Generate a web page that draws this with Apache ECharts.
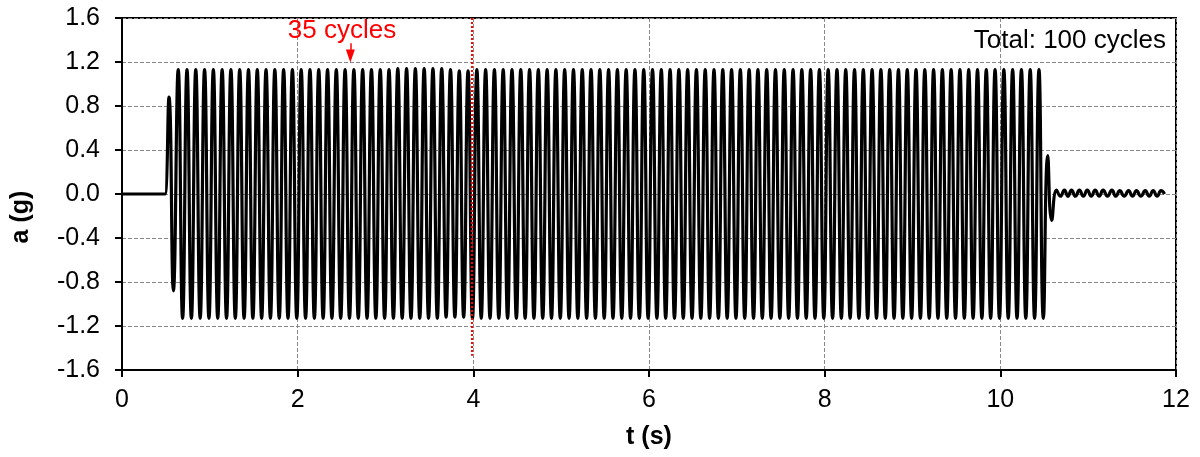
<!DOCTYPE html>
<html>
<head>
<meta charset="utf-8">
<title>a (g) vs t (s)</title>
<script src="https://cdn.jsdelivr.net/npm/echarts@6/dist/echarts.min.js"></script>
<style>
  html, body { margin: 0; padding: 0; background: #fff; }
  #chart { width: 1200px; height: 457px; }
</style>
</head>
<body>
<div id="chart"></div>
<script>
// flat start before shaking
var leadT = [0, 0.47, 0.49];
var leadA = [0, 0, 0];

// positive peaks (s, g)
var posT = [
  0.535, 0.64, 0.74, 0.84, 0.94, 1.04, 1.14, 1.24, 1.34, 1.44,
  1.54, 1.64, 1.74, 1.84, 1.94, 2.04, 2.14, 2.24, 2.34, 2.44,
  2.54, 2.64, 2.74, 2.84, 2.94, 3.04, 3.14, 3.24, 3.34, 3.44,
  3.54, 3.64, 3.74, 3.84, 3.94, 4.04, 4.14, 4.24, 4.34, 4.44,
  4.54, 4.64, 4.74, 4.84, 4.94, 5.04, 5.14, 5.24, 5.34, 5.44,
  5.54, 5.64, 5.74, 5.84, 5.94, 6.04, 6.14, 6.24, 6.34, 6.44,
  6.54, 6.64, 6.74, 6.84, 6.94, 7.04, 7.14, 7.24, 7.34, 7.44,
  7.54, 7.64, 7.74, 7.84, 7.94, 8.04, 8.14, 8.24, 8.34, 8.44,
  8.54, 8.64, 8.74, 8.84, 8.94, 9.04, 9.14, 9.24, 9.34, 9.44,
  9.54, 9.64, 9.74, 9.84, 9.94, 10.04, 10.14, 10.24, 10.34, 10.44
];
var posA = [
  0.88, 1.13, 1.13, 1.13, 1.13, 1.13, 1.13, 1.13, 1.13, 1.13,
  1.13, 1.13, 1.13, 1.13, 1.13, 1.13, 1.13, 1.13, 1.13, 1.13,
  1.13, 1.13, 1.13, 1.13, 1.13, 1.13, 1.14, 1.14, 1.14, 1.14,
  1.14, 1.14, 1.13, 1.12, 1.12, 1.13, 1.13, 1.13, 1.13, 1.13,
  1.13, 1.13, 1.13, 1.13, 1.13, 1.13, 1.13, 1.13, 1.13, 1.13,
  1.13, 1.13, 1.13, 1.13, 1.13, 1.13, 1.13, 1.13, 1.13, 1.13,
  1.13, 1.13, 1.13, 1.13, 1.13, 1.13, 1.13, 1.13, 1.13, 1.13,
  1.13, 1.13, 1.13, 1.13, 1.13, 1.13, 1.13, 1.13, 1.13, 1.13,
  1.13, 1.13, 1.13, 1.13, 1.13, 1.13, 1.13, 1.13, 1.13, 1.13,
  1.13, 1.13, 1.13, 1.13, 1.13, 1.13, 1.13, 1.13, 1.13, 1.13
];

// negative peaks (s, g)
var negT = [
  0.585, 0.69, 0.79, 0.89, 0.99, 1.09, 1.19, 1.29, 1.39, 1.49,
  1.59, 1.69, 1.79, 1.89, 1.99, 2.09, 2.19, 2.29, 2.39, 2.49,
  2.59, 2.69, 2.79, 2.89, 2.99, 3.09, 3.19, 3.29, 3.39, 3.49,
  3.59, 3.69, 3.79, 3.89, 3.99, 4.09, 4.19, 4.29, 4.39, 4.49,
  4.59, 4.69, 4.79, 4.89, 4.99, 5.09, 5.19, 5.29, 5.39, 5.49,
  5.59, 5.69, 5.79, 5.89, 5.99, 6.09, 6.19, 6.29, 6.39, 6.49,
  6.59, 6.69, 6.79, 6.89, 6.99, 7.09, 7.19, 7.29, 7.39, 7.49,
  7.59, 7.69, 7.79, 7.89, 7.99, 8.09, 8.19, 8.29, 8.39, 8.49,
  8.59, 8.69, 8.79, 8.89, 8.99, 9.09, 9.19, 9.29, 9.39, 9.49,
  9.59, 9.69, 9.79, 9.89, 9.99, 10.09, 10.19, 10.29, 10.39, 10.49
];
var negA = [
  -0.88, -1.13, -1.13, -1.13, -1.13, -1.13, -1.13, -1.13, -1.13, -1.13,
  -1.13, -1.13, -1.13, -1.13, -1.13, -1.13, -1.13, -1.13, -1.13, -1.13,
  -1.13, -1.13, -1.13, -1.13, -1.13, -1.13, -1.13, -1.13, -1.13, -1.13,
  -1.13, -1.12, -1.12, -1.12, -1.13, -1.13, -1.13, -1.13, -1.13, -1.13,
  -1.13, -1.13, -1.13, -1.13, -1.13, -1.13, -1.13, -1.13, -1.13, -1.13,
  -1.13, -1.13, -1.13, -1.13, -1.13, -1.13, -1.13, -1.13, -1.13, -1.13,
  -1.13, -1.13, -1.13, -1.13, -1.13, -1.13, -1.13, -1.13, -1.13, -1.13,
  -1.13, -1.13, -1.13, -1.13, -1.13, -1.13, -1.13, -1.13, -1.13, -1.13,
  -1.13, -1.13, -1.13, -1.13, -1.13, -1.13, -1.13, -1.13, -1.13, -1.13,
  -1.13, -1.13, -1.13, -1.13, -1.13, -1.13, -1.13, -1.13, -1.13, -1.13
];

// free vibration after the shaking stops
var tailT = [10.54, 10.585, 10.64, 10.685, 10.73, 10.77, 10.81, 10.855, 10.90, 10.945,
             10.99, 11.035, 11.08, 11.125, 11.17, 11.22, 11.27, 11.315, 11.36, 11.41,
             11.46, 11.505, 11.55, 11.60, 11.65, 11.695, 11.74, 11.785, 11.83, 11.87];
var tailA = [0.35, -0.24, 0.035, -0.02, 0.035, -0.02, 0.035, -0.02, 0.035, -0.02,
             0.035, -0.02, 0.035, -0.02, 0.035, -0.02, 0.035, -0.02, 0.03, -0.02,
             0.03, -0.02, 0.03, -0.02, 0.03, -0.02, 0.03, -0.02, 0.03, 0.0];

var xTicks = { min: 0, max: 12, step: 2 };
var yTicks = { min: -1.6, max: 1.6, step: 0.4 };
var markT = 3.98;      // red dotted line
var arrowT = 2.6;      // "35 cycles" arrow

var FONT = 'Liberation Sans, Arial, Helvetica, sans-serif';

var signal = [];
leadT.forEach(function (t, i) { signal.push([t, leadA[i]]); });
for (var i = 0; i < posT.length; i++) {
  signal.push([posT[i], posA[i]]);
  signal.push([negT[i], negA[i]]);
}
tailT.forEach(function (t, i) { signal.push([t, tailA[i]]); });

var chart = echarts.init(document.getElementById('chart'));

var gridLine = { show: true, lineStyle: { color: '#888888', width: 1, type: [4, 2] } };

var option = {
  animation: false,
  backgroundColor: '#fff',
  grid: {
    left: 122, right: 24, top: 18, bottom: 87,
    show: true, borderColor: '#000', borderWidth: 2, backgroundColor: 'transparent'
  },
  graphic: [
    {
      type: 'text', x: 1166, y: 28, z: 10,
      style: { text: 'Total: 100 cycles', fill: '#000', fontSize: 26, fontFamily: FONT,
               align: 'right', verticalAlign: 'top' }
    },
    {
      type: 'text', x: 342, y: 18, z: 10,
      style: { text: '35 cycles', fill: '#ff0000', fontSize: 26, fontFamily: FONT,
               align: 'center', verticalAlign: 'top' }
    }
  ],
  xAxis: {
    type: 'value',
    min: xTicks.min, max: xTicks.max, interval: xTicks.step,
    name: 't (s)',
    nameLocation: 'middle',
    nameGap: 55,
    nameTextStyle: { fontFamily: FONT, fontSize: 25, fontWeight: 'bold', color: '#000' },
    axisLine: { onZero: false, lineStyle: { color: '#000', width: 2 } },
    axisTick: { show: true, length: 7, lineStyle: { color: '#000', width: 2 } },
    axisLabel: { margin: 18, fontFamily: FONT, fontSize: 25, color: '#000' },
    splitLine: gridLine
  },
  yAxis: {
    type: 'value',
    min: yTicks.min, max: yTicks.max, interval: yTicks.step,
    name: 'a (g)',
    nameLocation: 'middle',
    nameGap: 88,
    nameTextStyle: { fontFamily: FONT, fontSize: 25, fontWeight: 'bold', color: '#000',
                     padding: [0, 46, 0, 0] },
    axisLine: { onZero: false, lineStyle: { color: '#000', width: 2 } },
    axisTick: { show: true, length: 7, lineStyle: { color: '#000', width: 2 } },
    axisLabel: {
      margin: 22, fontFamily: FONT, fontSize: 25, color: '#000',
      formatter: function (v) { return v.toFixed(1); }
    },
    splitLine: gridLine
  },
  series: [
    {
      name: 'a',
      type: 'line',
      data: signal,
      showSymbol: false,
      smooth: 0.5,
      lineStyle: { color: '#000', width: 3.2 },
      z: 3,
      markLine: {
        silent: true,
        animation: false,
        z: 6,
        symbol: ['none', 'none'],
        label: { show: false },
        data: [
          [
            { coord: [markT, 1.6], lineStyle: { color: '#ff0000', width: 2, type: [2, 2] } },
            { coord: [markT, -1.47] }
          ],
          [
            { coord: [arrowT, 1.37], symbol: 'none', lineStyle: { color: '#ff0000', width: 1.5, type: 'solid' } },
            { coord: [arrowT, 1.255], symbol: 'triangle', symbolSize: [9, 13] }
          ]
        ]
      }
    }
  ]
};

chart.setOption(option);
</script>
</body>
</html>
